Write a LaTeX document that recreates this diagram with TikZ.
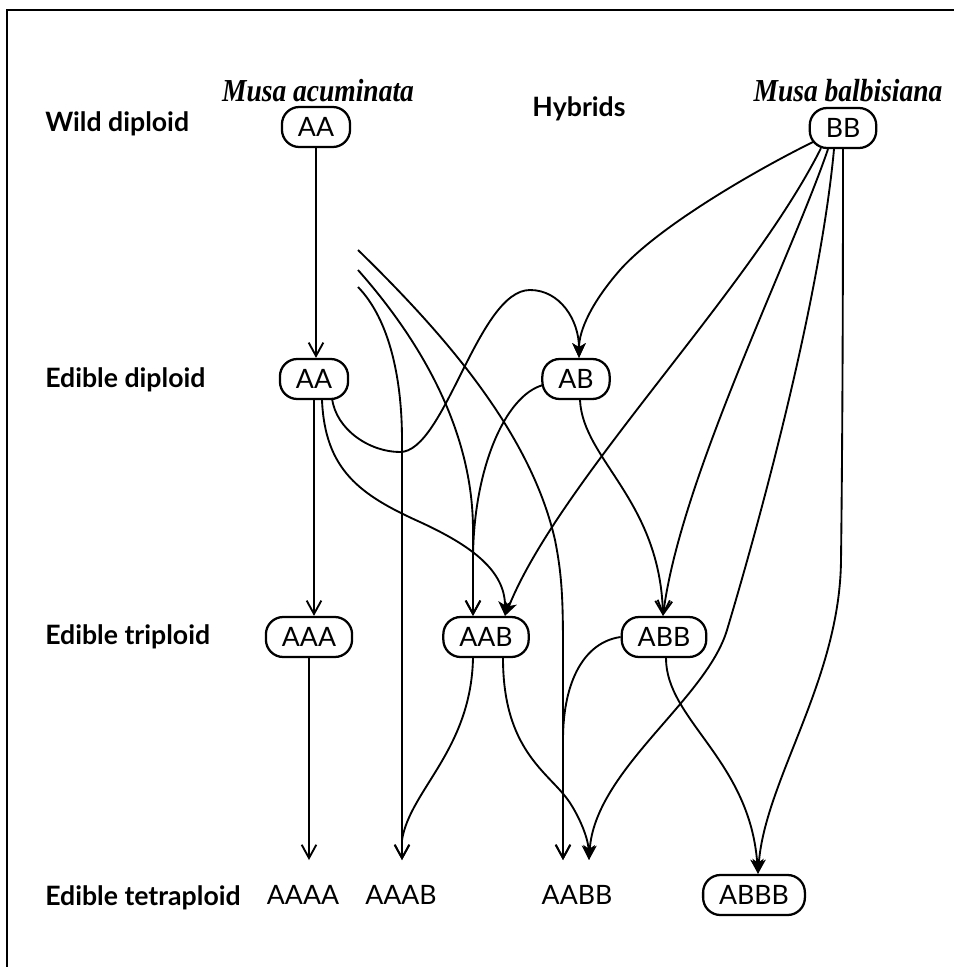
\documentclass[tikz,border=0pt]{standalone}
\usepackage{fontspec}
\setmainfont{Lato}
\newfontfamily\headfont[FakeStretch=0.86]{Liberation Serif}
\usetikzlibrary{arrows.meta,calc}

\begin{document}
\begin{tikzpicture}[x=0.75pt,y=-0.75pt,
  geno/.style={draw, line width=1.7pt, rounded corners=13pt, minimum height=30pt,
    inner xsep=12pt, inner ysep=0pt, font=\fontsize{20}{20}\selectfont},
  plain/.style={font=\fontsize{20}{20}\selectfont, inner sep=0pt, anchor=base},
  rowlab/.style={font=\bfseries\fontsize{20}{20}\selectfont, anchor=base west, inner sep=0pt},
  head/.style={font=\headfont\bfseries\itshape\fontsize{24}{24}\selectfont, anchor=base, inner sep=0pt},
  colhead/.style={font=\bfseries\fontsize{20}{20}\selectfont, anchor=base, inner sep=0pt},
  link/.style={line width=1.4pt},
  barb/.style={link, -{Straight Barb[length=10pt,width=11pt]}},
  dart/.style={link, -{Stealth[length=11pt,width=10pt,inset=3pt]}}
]
\useasboundingbox (0,0) rectangle (954,967);

% frame
\draw[line width=2.2pt] (7,967) -- (7,10) -- (954,10);

% column headings
\node[head] (hA) at (318,101) {Musa acuminata};
\node[colhead] (hH) at (579,116) {Hybrids};
\node[head] (hB) at (848,101) {Musa balbisiana};

% row labels
\node[rowlab] (r1) at (45,131) {Wild diploid};
\node[rowlab] (r2) at (45,387) {Edible diploid};
\node[rowlab] (r3) at (45,644) {Edible triploid};
\node[rowlab] (r4) at (45,905) {Edible tetraploid};

% genome groups
\node[geno] (AAw)  at (316,127) {AA};
\node[geno] (BB)   at (843,128) {BB};
\node[geno] (AAe)  at (314,379) {AA};
\node[geno] (AB)   at (576,379) {AB};
\node[geno] (AAA)  at (309,637) {AAA};
\node[geno] (AAB)  at (486,637) {AAB};
\node[geno] (ABB)  at (664,637) {ABB};
\node[geno] (ABBB) at (754,895) {ABBB};
\node[plain] (AAAA) at (303,904) {AAAA};
\node[plain] (AAAB) at (401,904) {AAAB};
\node[plain] (AABB) at (577,904) {AABB};

% arrow ends above the tetraploid names, and free line starts
\coordinate (AAAAin) at (309,860);
\coordinate (AAABin) at (402,860);
\coordinate (AABBl)  at (563,860);
\coordinate (AABBr)  at (589,860);
\coordinate (sa) at (358,250);
\coordinate (sb) at (358,270);
\coordinate (sc) at (358,287);

% acuminata line
\draw[barb] (AAw.south) -- (AAw.south |- AAe.north);
\draw[barb] (AAe.south) -- (AAe.south |- AAA.north);
\draw[barb] (AAA.south) -- (AAA.south |- AAAAin);

% edible AA crosses
\draw[dart] ($(AAe.south)+(18,-2)$) .. controls (336,430) and (370,452) .. (400,452)
  .. controls (445,452) and (478,290) .. (530,290)
  .. controls (560,290) and (579,320) .. ($(AB.north)+(3,0)$);
\draw[dart] ($(AAe.south)+(8,0)$) .. controls (325,470) and (360,495) .. (420,522)
  .. controls (470,545) and (505,570) .. ($(AAB.north)+(19,0)$);

% balbisiana lines
\draw[dart] ($(BB.center)+(-30,14)$) .. controls (760,168) and (660,225) .. (620,270)
  .. controls (592,302) and (579,330) .. ($(AB.north)+(3,0)$);
\draw[dart] ($(BB.south)+(-22,-1)$) .. controls (750,290) and (560,480) .. ($(AAB.north)+(19,0)$);
\draw[barb] ($(BB.south)+(-15,0)$) .. controls (790,260) and (680,480) .. ($(ABB.north)+(-1,0)$);
\draw[dart] ($(BB.south)+(-9,0)$) .. controls (820,300) and (760,520) .. (727,630)
  .. controls (706,700) and (595,770) .. (AABBr);
\draw[dart] (BB.south) .. controls (843,350) and (842,480) .. (841,560)
  .. controls (840,680) and (765,780) .. ($(ABBB.north)+(4,0)$);

% hybrid lines
\draw[barb] ($(AB.south)+(4,0)$) .. controls (583,460) and (660,500) .. ($(ABB.north)+(-1,0)$);
\draw[barb] ($(AB.west)+(2,6)$) .. controls (505,395) and (473,470) .. (473,560) -- ($(AAB.north)+(-13,0)$);
\draw[dart] ($(ABB.south)+(2,0)$) .. controls (666,720) and (750,760) .. ($(ABBB.north)+(4,0)$);
\draw[barb] (ABB.west) .. controls (585,642) and (563,680) .. (563,740) -- (AABBl);
\draw[barb] ($(AAB.south)+(-13,0)$) .. controls (471,750) and (410,790) .. (402,840) -- (AAABin);
\draw[dart] ($(AAB.south)+(17,0)$) .. controls (503,750) and (548,772) .. (568,800)
  .. controls (576,811) and (588,835) .. (AABBr);

% lines entering from the upper left
\draw[barb] (sa) .. controls (440,330) and (530,430) .. (555,540)
  .. controls (562,575) and (563,600) .. (563,650) -- (AABBl);
\draw[barb] (sb) .. controls (420,340) and (473,430) .. (473,530) -- ($(AAB.north)+(-13,0)$);
\draw[barb] (sc) .. controls (390,320) and (402,380) .. (402,440) -- (AAABin);
\end{tikzpicture}
\end{document}
